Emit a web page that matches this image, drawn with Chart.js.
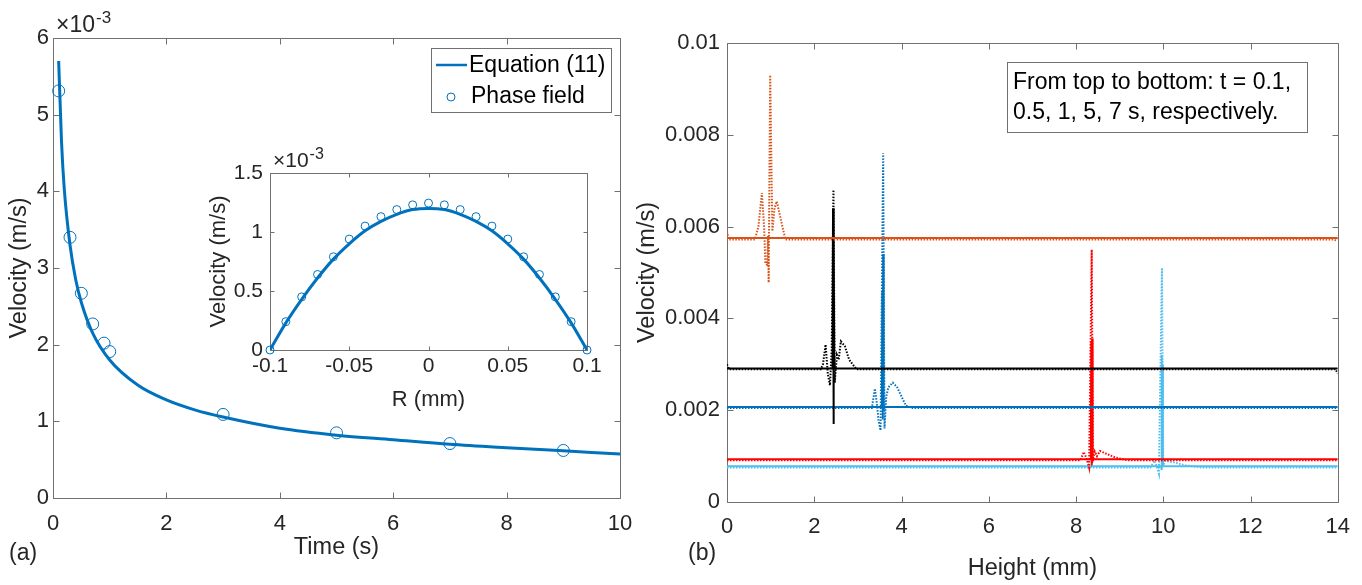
<!DOCTYPE html>
<html>
<head>
<meta charset="utf-8">
<title>Velocity</title>
<script src="https://cdn.jsdelivr.net/npm/chart.js@4.4.1/dist/chart.umd.min.js"></script>
<style>
  html, body { margin: 0; padding: 0; background: #fff; }
  #wrap { position: relative; width: 1362px; height: 585px; overflow: hidden; }
  canvas { position: absolute; }
  #chartA { left: 0; top: 0; }
  #chartB { left: 615px; top: 0; }
  #inset { left: 200px; top: 140px; }
</style>
</head>
<body>
<div id="wrap">
  <canvas id="chartA" width="650" height="585"></canvas>
  <canvas id="chartB" width="747" height="585"></canvas>
  <canvas id="inset" width="420" height="290"></canvas>
</div>
<script>
// ---- (a) velocity vs time ----
const eqTime = [0.1, 0.15, 0.2, 0.3, 0.4, 0.5, 0.7, 1, 1.5, 2, 2.5, 3, 4, 5, 6, 7, 8, 9, 10];
const eqVel = [0.0057, 0.00465, 0.00402, 0.0033, 0.00285, 0.00255, 0.00215, 0.0018, 0.00147, 0.00128,
               0.00115, 0.001056, 0.00091, 0.00082, 0.00076, 0.0007, 0.000655, 0.000615, 0.000575];
const pfTime = [0.1, 0.3, 0.5, 0.7, 0.9, 1, 3, 5, 7, 9];
const pfVel = [0.00531, 0.0034, 0.00267, 0.00227, 0.00202, 0.00191, 0.00109, 0.00085, 0.00071, 0.00062];

// ---- inset: velocity profile across radius ----
const insetR = [-0.1, -0.09, -0.08, -0.07, -0.06, -0.05, -0.04, -0.03, -0.02, -0.01, 0,
                0.01, 0.02, 0.03, 0.04, 0.05, 0.06, 0.07, 0.08, 0.09, 0.1];
const insetEq = [0, 0.00023, 0.00043, 0.00061, 0.00077, 0.0009, 0.00101, 0.00109, 0.00115, 0.00119, 0.0012,
                 0.00119, 0.00115, 0.00109, 0.00101, 0.0009, 0.00077, 0.00061, 0.00043, 0.00023, 0];
const insetPf = [0, 0.00024, 0.00045, 0.00064, 0.00079, 0.00094, 0.00105, 0.00113, 0.00119, 0.00123, 0.001245,
                 0.00123, 0.00119, 0.00113, 0.00105, 0.00094, 0.00079, 0.00064, 0.00045, 0.00024, 0];

// ---- (b) velocity vs height, t = 0.1, 0.5, 1, 5, 7 s ----
const orSolidX = [0, 14];
const orSolidY = [0.00575, 0.00575];
const orDotX = [0, 0.04, 0.64, 0.72, 0.8, 0.85, 0.88, 0.92, 0.94, 0.955, 0.99, 1.04, 1.09, 1.14, 1.2, 1.27, 1.34, 13.9, 13.96, 14];
const orDotY = [0.0059, 0.00572, 0.00572, 0.006, 0.00673, 0.006, 0.0052, 0.00517, 0.0058, 0.00478, 0.0093, 0.0059, 0.0064, 0.00655, 0.0063, 0.006, 0.00572, 0.00572, 0.0057, 0.0058];

const bkSolidX = [0, 2.42, 2.43, 2.44, 2.45, 2.46, 14];
const bkSolidY = [0.00291, 0.00291, 0.0064, 0.0017, 0.0055, 0.00291, 0.00291];
const bkDotX = [0, 0.05, 2.15, 2.2, 2.26, 2.31, 2.36, 2.4, 2.44, 2.47, 2.52, 2.56, 2.61, 2.7, 2.8, 2.97, 13.95, 14];
const bkDotY = [0.003, 0.00289, 0.00289, 0.003, 0.00343, 0.0028, 0.00254, 0.0033, 0.0068, 0.0026, 0.0032, 0.0031, 0.0035, 0.0034, 0.0031, 0.00289, 0.00289, 0.0028];

const blSolidX = [0, 3.55, 3.56, 3.57, 3.58, 3.59, 3.6, 14];
const blSolidY = [0.00207, 0.00207, 0.0046, 0.0018, 0.0054, 0.002, 0.00207, 0.00207];
const blDotX = [0, 3.32, 3.39, 3.44, 3.47, 3.52, 3.58, 3.61, 3.65, 3.7, 3.8, 3.9, 4.0, 4.1, 4.23, 14];
const blDotY = [0.00205, 0.00205, 0.00247, 0.0021, 0.0018, 0.00156, 0.0076, 0.0016, 0.0023, 0.0025, 0.0026, 0.0025, 0.0023, 0.0021, 0.00205, 0.00205];

const rdSolidX = [0, 8.34, 8.35, 8.36, 8.37, 8.38, 8.39, 14];
const rdSolidY = [0.00093, 0.00093, 0.0035, 0.0008, 0.00356, 0.0009, 0.00093, 0.00093];
const rdDotX = [0, 8.1, 8.18, 8.24, 8.3, 8.36, 8.39, 8.43, 8.48, 8.55, 8.7, 8.9, 9.17, 14];
const rdDotY = [0.00091, 0.00091, 0.00109, 0.00095, 0.00075, 0.0055, 0.0009, 0.0011, 0.001, 0.00111, 0.00105, 0.00097, 0.00091, 0.00091];

const lbSolidX = [0, 9.95, 9.96, 9.97, 9.98, 9.99, 14];
const lbSolidY = [0.00078, 0.00078, 0.0032, 0.0007, 0.003, 0.00078, 0.00078];
const lbDotX = [0, 9.7, 9.8, 9.86, 9.9, 9.97, 10.0, 10.05, 10.1, 10.3, 10.5, 10.9, 14];
const lbDotY = [0.00075, 0.00075, 0.0009, 0.00075, 0.00062, 0.0051, 0.0008, 0.0009, 0.00089, 0.00085, 0.0008, 0.00075, 0.00075];

const FONT = '"Liberation Sans", Arial, sans-serif';
const TXT = '#262626';
const BLUE = '#0072BD';
const TITLE = 23.5;

Chart.defaults.font.family = FONT;
Chart.defaults.font.size = 22;
Chart.defaults.color = TXT;

function pts(xs, ys) {
  return xs.map((x, i) => ({ x: x, y: ys[i] }));
}

// MATLAB style box with inward ticks
function boxTicks(tickLen) {
  return {
    id: 'boxTicks',
    beforeDatasetsDraw(chart) {
      const ctx = chart.ctx, a = chart.chartArea;
      const xs = chart.scales.x, ys = chart.scales.y;
      const l = Math.round(a.left) + 0.5, r = Math.round(a.right) + 0.5;
      const t = Math.round(a.top) + 0.5, b = Math.round(a.bottom) + 0.5;
      ctx.save();
      ctx.strokeStyle = '#707070';
      ctx.lineWidth = 1;
      ctx.beginPath();
      ctx.rect(l, t, r - l, b - t);
      xs.ticks.forEach(tk => {
        const px = Math.round(xs.getPixelForValue(tk.value)) + 0.5;
        ctx.moveTo(px, b); ctx.lineTo(px, b - tickLen);
        ctx.moveTo(px, t); ctx.lineTo(px, t + tickLen);
      });
      ys.ticks.forEach(tk => {
        const py = Math.round(ys.getPixelForValue(tk.value)) + 0.5;
        ctx.moveTo(l, py); ctx.lineTo(l + tickLen, py);
        ctx.moveTo(r, py); ctx.lineTo(r - tickLen, py);
      });
      ctx.stroke();
      ctx.restore();
    }
  };
}

function exponent(ctx, x, y, size) {
  ctx.fillStyle = TXT;
  ctx.textBaseline = 'alphabetic';
  ctx.textAlign = 'left';
  ctx.font = size + 'px ' + FONT;
  ctx.fillText('\u00d710', x, y);
  const w = ctx.measureText('\u00d710').width;
  ctx.font = Math.round(size * 0.75) + 'px ' + FONT;
  ctx.fillText('-3', x + w + 1, y - size * 0.4);
}

const noGrid = { display: false, drawTicks: false, tickLength: 0 };

// ---------- chart (a) ----------
const extrasA = {
  id: 'extrasA',
  afterDraw(chart) {
    const ctx = chart.ctx;
    ctx.save();
    exponent(ctx, 56, 32, 23);
    // legend box
    ctx.fillStyle = '#fff';
    ctx.strokeStyle = '#707070';
    ctx.lineWidth = 1;
    ctx.fillRect(431, 48, 180, 64);
    ctx.strokeRect(431.5, 48.5, 180, 64);
    ctx.strokeStyle = BLUE;
    ctx.lineWidth = 2.5;
    ctx.beginPath();
    ctx.moveTo(436, 65); ctx.lineTo(467, 65);
    ctx.stroke();
    ctx.lineWidth = 1;
    ctx.beginPath();
    ctx.arc(451, 97, 4, 0, Math.PI * 2);
    ctx.stroke();
    ctx.fillStyle = '#000';
    ctx.font = '23px ' + FONT;
    ctx.textBaseline = 'middle';
    ctx.fillText('Equation (11)', 469, 66);
    ctx.fillText('Phase field', 471, 97);
    ctx.fillStyle = TXT;
    ctx.fillText('(a)', 9, 554);
    ctx.restore();
  }
};

new Chart(document.getElementById('chartA'), {
  type: 'line',
  data: {
    datasets: [
      {
        label: 'Phase field',
        data: pts(pfTime, pfVel),
        showLine: false,
        borderColor: BLUE,
        backgroundColor: 'rgba(0,0,0,0)',
        pointRadius: 6,
        pointBorderWidth: 1,
        clip: false
      },
      {
        label: 'Equation (11)',
        data: pts(eqTime, eqVel),
        borderColor: BLUE,
        borderWidth: 3,
        pointRadius: 0,
        cubicInterpolationMode: 'monotone'
      }
    ]
  },
  options: {
    responsive: false,
    animation: false,
    layout: { padding: { top: 38, right: 30, left: 0, bottom: 0 } },
    plugins: { legend: { display: false }, tooltip: { enabled: false } },
    scales: {
      x: {
        type: 'linear', min: 0, max: 10,
        ticks: { stepSize: 2, padding: 13, maxRotation: 0 },
        grid: noGrid, border: { display: false },
        title: { display: true, text: 'Time (s)', font: { size: TITLE }, padding: { top: 0, bottom: 23 } },
        afterFit: s => { s.height = 87; }
      },
      y: {
        min: 0, max: 0.006,
        ticks: { stepSize: 0.001, padding: 4, callback: v => String(+(v * 1000).toFixed(1)) },
        grid: noGrid, border: { display: false },
        title: { display: true, text: 'Velocity (m/s)', font: { size: TITLE }, padding: { top: 5, bottom: 0 } },
        afterFit: s => { s.width = 53; }
      }
    }
  },
  plugins: [boxTicks(6), extrasA]
});

// ---------- inset ----------
const extrasInset = {
  id: 'extrasInset',
  afterDraw(chart) {
    const ctx = chart.ctx;
    ctx.save();
    exponent(ctx, 73, 27, 21);
    ctx.restore();
  }
};

new Chart(document.getElementById('inset'), {
  type: 'line',
  data: {
    datasets: [
      {
        label: 'Phase field',
        data: pts(insetR, insetPf),
        showLine: false,
        borderColor: BLUE,
        backgroundColor: 'rgba(0,0,0,0)',
        pointRadius: 4,
        pointBorderWidth: 1,
        clip: false
      },
      {
        label: 'Equation (11)',
        data: pts(insetR, insetEq),
        borderColor: BLUE,
        borderWidth: 3,
        pointRadius: 0,
        cubicInterpolationMode: 'monotone'
      }
    ]
  },
  options: {
    responsive: false,
    animation: false,
    layout: { padding: { top: 33, right: 33, left: 0, bottom: 0 } },
    plugins: { legend: { display: false }, tooltip: { enabled: false } },
    scales: {
      x: {
        type: 'linear', min: -0.1, max: 0.1,
        ticks: { stepSize: 0.05, padding: 4, maxRotation: 0, font: { size: 21 }, callback: v => String(+v.toFixed(2)) },
        grid: noGrid, border: { display: false },
        title: { display: true, text: 'R (mm)', font: { size: 22 }, padding: { top: 0, bottom: 17 } },
        afterFit: s => { s.height = 80; }
      },
      y: {
        min: 0, max: 0.0015,
        ticks: { stepSize: 0.0005, padding: 7, font: { size: 21 }, callback: v => String(+(v * 1000).toFixed(1)) },
        grid: noGrid, border: { display: false },
        title: { display: true, text: 'Velocity (m/s)', font: { size: 22 }, padding: { top: 6, bottom: 0 } },
        afterFit: s => { s.width = 70; }
      }
    }
  },
  plugins: [boxTicks(4), extrasInset]
});

// ---------- chart (b) ----------
const extrasB = {
  id: 'extrasB',
  afterDraw(chart) {
    const ctx = chart.ctx;
    ctx.save();
    ctx.fillStyle = '#fff';
    ctx.fillRect(392, 62, 300, 70);
    ctx.strokeStyle = '#707070';
    ctx.lineWidth = 1;
    ctx.strokeRect(392.5, 62.5, 300, 70);
    ctx.fillStyle = '#000';
    ctx.font = '23px ' + FONT;
    ctx.textBaseline = 'middle';
    ctx.textAlign = 'left';
    ctx.fillText('From top to bottom: t = 0.1,', 398, 83);
    ctx.fillText('0.5, 1, 5, 7 s, respectively.', 398, 113);
    ctx.fillStyle = TXT;
    ctx.fillText('(b)', 73, 554);
    ctx.restore();
  }
};

function solid(xs, ys, color) {
  return { data: pts(xs, ys), borderColor: color, borderWidth: 2, pointRadius: 0, tension: 0 };
}
function dotted(xs, ys, color) {
  return { data: pts(xs, ys), borderColor: color, borderWidth: 2, borderDash: [1.5, 1.5], pointRadius: 0, tension: 0 };
}

new Chart(document.getElementById('chartB'), {
  type: 'line',
  data: {
    datasets: [
      solid(orSolidX, orSolidY, '#D95319'),
      dotted(orDotX, orDotY, '#D95319'),
      solid(bkSolidX, bkSolidY, '#000000'),
      dotted(bkDotX, bkDotY, '#000000'),
      solid(blSolidX, blSolidY, '#0072BD'),
      dotted(blDotX, blDotY, '#0072BD'),
      solid(rdSolidX, rdSolidY, '#FF0000'),
      dotted(rdDotX, rdDotY, '#FF0000'),
      solid(lbSolidX, lbSolidY, '#4DBEEE'),
      dotted(lbDotX, lbDotY, '#4DBEEE')
    ]
  },
  options: {
    responsive: false,
    animation: false,
    layout: { padding: { top: 43, right: 19, left: 0, bottom: 0 } },
    plugins: { legend: { display: false }, tooltip: { enabled: false } },
    scales: {
      x: {
        type: 'linear', min: 0, max: 14,
        ticks: { stepSize: 2, padding: 12, maxRotation: 0 },
        grid: noGrid, border: { display: false },
        title: { display: true, text: 'Height (mm)', font: { size: TITLE }, padding: { top: 0, bottom: 2 } },
        afterFit: s => { s.height = 83; }
      },
      y: {
        min: 0, max: 0.01,
        ticks: { stepSize: 0.002, padding: 7, callback: v => String(+v.toFixed(3)) },
        grid: noGrid, border: { display: false },
        title: { display: true, text: 'Velocity (m/s)', font: { size: TITLE }, padding: { top: 18, bottom: 0 } },
        afterFit: s => { s.width = 112; }
      }
    }
  },
  plugins: [boxTicks(6), extrasB]
});
</script>
</body>
</html>
